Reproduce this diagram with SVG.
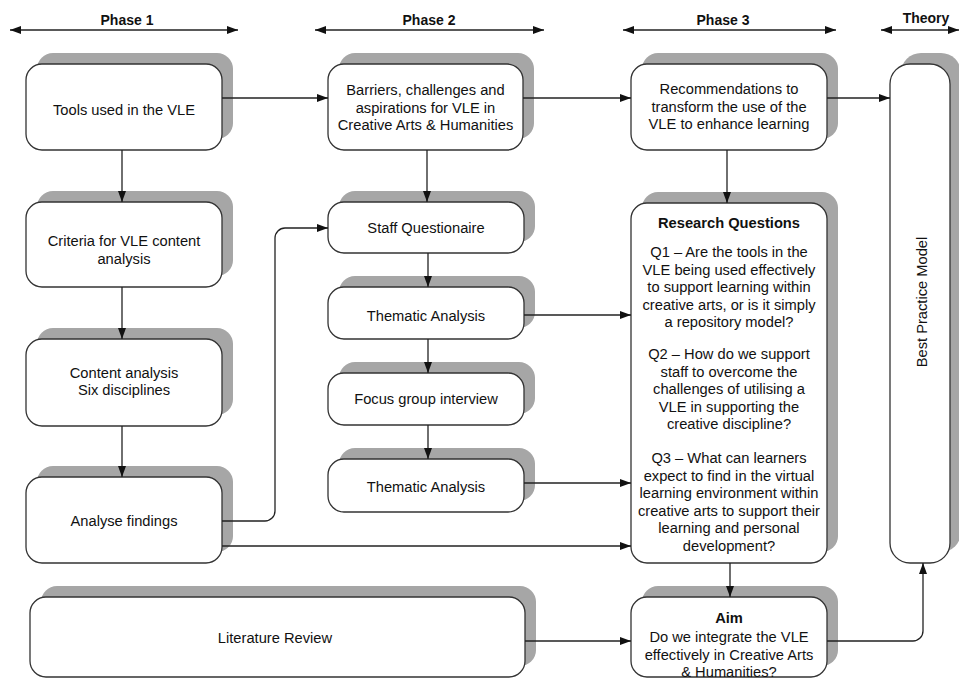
<svg xmlns="http://www.w3.org/2000/svg" width="959" height="680" viewBox="0 0 959 680">
<style>
.sh{fill:#a6a6a6;stroke:none}
.bx{fill:#fff;stroke:#333;stroke-width:1.3}
text{font-family:"Liberation Sans",Arial,sans-serif;font-size:14.7px;fill:#111;text-anchor:middle}
.b{font-weight:bold}
.ph{font-weight:bold;font-size:14px}
.c{fill:none;stroke:#222;stroke-width:1.3}
</style>
<defs>
<marker id="ah" markerUnits="userSpaceOnUse" markerWidth="11" markerHeight="8" refX="11" refY="4" orient="auto-start-reverse">
<path d="M0,0 L11,4 L0,8 z" fill="#111"/>
</marker>
</defs>
<rect width="959" height="680" fill="#fff"/>

<g id="phases">
<text class="ph" x="127" y="25">Phase 1</text>
<line class="c" x1="10" y1="30" x2="238" y2="30" marker-start="url(#ah)" marker-end="url(#ah)"/>
<text class="ph" x="429" y="25">Phase 2</text>
<line class="c" x1="315" y1="30" x2="544" y2="30" marker-start="url(#ah)" marker-end="url(#ah)"/>
<text class="ph" x="723" y="25">Phase 3</text>
<line class="c" x1="623" y1="30" x2="836" y2="30" marker-start="url(#ah)" marker-end="url(#ah)"/>
<text class="ph" x="926" y="23">Theory</text>
<line class="c" x1="881" y1="30" x2="959" y2="30" marker-start="url(#ah)" marker-end="url(#ah)"/>
</g>

<g id="tools">
<rect class="sh" x="37" y="53" width="196" height="86" rx="16"/>
<rect class="bx" x="26" y="64" width="196" height="86" rx="16"/>
<text x="124" y="115">Tools used in the VLE</text>
</g>
<g id="criteria">
<rect class="sh" x="37" y="191" width="196" height="85" rx="16"/>
<rect class="bx" x="26" y="202" width="196" height="85" rx="16"/>
<text x="124" y="246">Criteria for VLE content</text>
<text x="124" y="264">analysis</text>
</g>
<g id="content">
<rect class="sh" x="37" y="328" width="196" height="87" rx="16"/>
<rect class="bx" x="26" y="339" width="196" height="87" rx="16"/>
<text x="124" y="378">Content analysis</text>
<text x="124" y="395">Six disciplines</text>
</g>
<g id="analyse">
<rect class="sh" x="37" y="466" width="196" height="86" rx="16"/>
<rect class="bx" x="26" y="477" width="196" height="86" rx="16"/>
<text x="124" y="526">Analyse findings</text>
</g>
<g id="literature">
<rect class="sh" x="41" y="586" width="495" height="80" rx="16"/>
<rect class="bx" x="30" y="597" width="495" height="80" rx="16"/>
<text x="275" y="643">Literature Review</text>
</g>

<g id="barriers">
<rect class="sh" x="339" y="53" width="195" height="86" rx="16"/>
<rect class="bx" x="328" y="64" width="195" height="86" rx="16"/>
<text x="425.5" y="95">Barriers, challenges and</text>
<text x="425.5" y="112.5">aspirations for VLE in</text>
<text x="425.5" y="130">Creative Arts &amp; Humanities</text>
</g>
<g id="staff">
<rect class="sh" x="339" y="191" width="196" height="51" rx="16"/>
<rect class="bx" x="328" y="202" width="196" height="51" rx="16"/>
<text x="426" y="233">Staff Questionaire</text>
</g>
<g id="thematic1">
<rect class="sh" x="339" y="276" width="196" height="52" rx="16"/>
<rect class="bx" x="328" y="287" width="196" height="52" rx="16"/>
<text x="426" y="321">Thematic Analysis</text>
</g>
<g id="focus">
<rect class="sh" x="339" y="362" width="196" height="52" rx="16"/>
<rect class="bx" x="328" y="373" width="196" height="52" rx="16"/>
<text x="426" y="404">Focus group interview</text>
</g>
<g id="thematic2">
<rect class="sh" x="339" y="448" width="196" height="53" rx="16"/>
<rect class="bx" x="328" y="459" width="196" height="53" rx="16"/>
<text x="426" y="492">Thematic Analysis</text>
</g>

<g id="recommendations">
<rect class="sh" x="642" y="53" width="196" height="86" rx="16"/>
<rect class="bx" x="631" y="64" width="196" height="86" rx="16"/>
<text x="729" y="94">Recommendations to</text>
<text x="729" y="111.5">transform the use of the</text>
<text x="729" y="129">VLE to enhance learning</text>
</g>
<g id="research">
<rect class="sh" x="642" y="192" width="196" height="360" rx="16"/>
<rect class="bx" x="631" y="203" width="196" height="360" rx="16"/>
<text class="b" x="729" y="228">Research Questions</text>
<text x="729" y="257">Q1 – Are the tools in the</text>
<text x="729" y="274.5">VLE being used effectively</text>
<text x="729" y="292">to support learning within</text>
<text x="729" y="309.5">creative arts, or is it simply</text>
<text x="729" y="327">a repository model?</text>
<text x="729" y="359">Q2 – How do we support</text>
<text x="729" y="376.5">staff to overcome the</text>
<text x="729" y="394">challenges of utilising a</text>
<text x="729" y="411.5">VLE in supporting the</text>
<text x="729" y="429">creative discipline?</text>
<text x="729" y="463">Q3 – What can learners</text>
<text x="729" y="480.5">expect to find in the virtual</text>
<text x="729" y="498">learning environment within</text>
<text x="729" y="515.5">creative arts to support their</text>
<text x="729" y="533">learning and personal</text>
<text x="729" y="550.5">development?</text>
</g>
<g id="aim">
<rect class="sh" x="642" y="586" width="196" height="80" rx="16"/>
<rect class="bx" x="631" y="597" width="196" height="80" rx="16"/>
<text class="b" x="729" y="623">Aim</text>
<text x="729" y="642">Do we integrate the VLE</text>
<text x="729" y="660">effectively in Creative Arts</text>
<text x="729" y="677">&amp; Humanities?</text>
</g>

<g id="bestpractice">
<rect class="sh" x="901" y="53" width="60" height="499" rx="20"/>
<rect class="bx" x="890" y="64" width="60" height="499" rx="20"/>
<text transform="translate(927,302) rotate(-90)">Best Practice Model</text>
</g>

<g id="connectors">
<line class="c" x1="222" y1="98" x2="328" y2="98" marker-end="url(#ah)"/>
<line class="c" x1="523" y1="98" x2="631" y2="98" marker-end="url(#ah)"/>
<line class="c" x1="827" y1="98" x2="890" y2="98" marker-end="url(#ah)"/>
<line class="c" x1="122" y1="150" x2="122" y2="202" marker-end="url(#ah)"/>
<line class="c" x1="122" y1="287" x2="122" y2="339" marker-end="url(#ah)"/>
<line class="c" x1="122" y1="426" x2="122" y2="477" marker-end="url(#ah)"/>
<line class="c" x1="427" y1="150" x2="427" y2="202" marker-end="url(#ah)"/>
<line class="c" x1="428" y1="253" x2="428" y2="287" marker-end="url(#ah)"/>
<line class="c" x1="428" y1="339" x2="428" y2="373" marker-end="url(#ah)"/>
<line class="c" x1="428" y1="425" x2="428" y2="459" marker-end="url(#ah)"/>
<line class="c" x1="727" y1="150" x2="727" y2="203" marker-end="url(#ah)"/>
<line class="c" x1="730" y1="563" x2="730" y2="597" marker-end="url(#ah)"/>
<line class="c" x1="524" y1="315" x2="631" y2="315" marker-end="url(#ah)"/>
<line class="c" x1="524" y1="483" x2="631" y2="483" marker-end="url(#ah)"/>
<path class="c" d="M222,521 H265 A10,10 0 0 0 275,511 V238 A10,10 0 0 1 285,228 H328" marker-end="url(#ah)"/>
<line class="c" x1="222" y1="546" x2="631" y2="546" marker-end="url(#ah)"/>
<line class="c" x1="525" y1="641" x2="631" y2="641" marker-end="url(#ah)"/>
<path class="c" d="M827,641 H913 A10,10 0 0 0 923,631 V563" marker-end="url(#ah)"/>
</g>
</svg>
